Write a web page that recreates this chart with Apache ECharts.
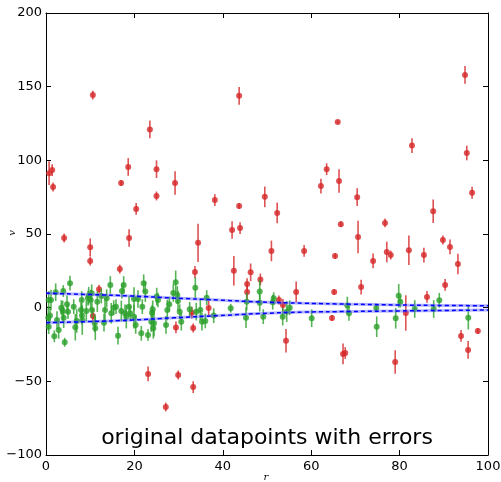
<!DOCTYPE html>
<html>
<head>
<meta charset="utf-8">
<script src="https://cdn.jsdelivr.net/npm/echarts@6/dist/echarts.min.js"></script>
<style>html,body{margin:0;padding:0;background:#fff;}#chart{width:501px;height:482px;}</style>
</head>
<body>
<div id="chart"></div>
<script>
// Red (outlier) datapoints: x, y, error
var redX = [0.7,1.4,1.6,4.1,10.6,10.0,10.0,10.6,12,16.7,17,18.6,18.8,20.4,23.1,23.5,25,25,27.1,29.2,29.4,29.9,33,33.3,33.3,33.7,34.4,36.8,38.2,42.1,42.5,43.7,43.7,43.9,45.5,45.5,46.3,48.5,49.5,51,52.3,52.7,53.6,54.3,56.6,58.4,62.2,63.5,64.7,65.2,65.4,66,66.3,66.7,67.2,67.7,70.4,70.6,71.3,74,76.7,77.1,78,79,81.4,82.1,82.8,85.5,86.2,87.6,89.8,90.3,91.4,93.2,93.9,94.8,95.2,95.5,96.4,97.7];
var redY = [91.3,93.4,81.9,47.3,144.3,41,31.7,-5.6,12.5,26.2,84.6,95.5,47.3,67,-45,121,94,75.8,-67.4,84.6,-13.4,-45.7,-3.4,-53.9,-13.8,24.2,44,-0.2,73,52.7,25,143.8,69,54,10.6,16,24,19.2,75.2,38.5,64.3,5.2,1.8,-22.5,10.7,38.5,82.5,94,-7,10.7,35,126,86,56.7,-31.4,-30.8,75,48,14,31.7,57.5,37.8,35.7,-36.9,-3.6,39,110,35.7,7.3,65.5,45.9,15.4,41.2,29.6,-19.2,158,105,-28.7,78,-15.8];
var redErr = [8,4,3,3,3,6,3,5,3,3,2,6,6,4,5,6,6,3,3,8,4,3,4,4,3,4,13,5,4,6,10,6,2,4,5,4,6,4,7,7,7,3,4,8,7,4,5,4,2,2,2,1,8,2,7,4,6,11,5,5,3,7,3,8,12,10,5,5,4,8,3,4,5,7,4,6,5,6,4,2];

// Green (inlier) datapoints: x, y, error
var greenX = [5.43,2.19,3.91,1.13,0.61,0.90,0.52,2.49,0.61,1.88,2.87,4.23,3.46,3.78,4.75,4.98,4.00,6.27,6.95,6.63,8.08,7.92,8.14,8.21,9.12,9.50,9.66,10.11,10.34,10.41,11.15,11.02,11.61,12.51,13.35,13.73,14.77,14.55,15.32,15.84,16.29,17.19,17.58,17.04,17.87,18.17,19.07,13.12,22.10,22.47,19.91,20.81,21.79,18.78,19.91,20.29,21.56,23.08,24.14,23.98,23.82,24.43,24.28,25.05,25.34,27.15,27.44,27.90,28.80,29.34,29.71,29.86,30.25,30.61,33.78,32.51,34.00,34.91,35.29,36.04,36.36,37.94,41.79,45.25,45.41,48.35,48.35,49.16,51.29,51.52,53.55,54.46,55.14,60.11,68.17,68.55,74.73,74.82,79.12,79.80,80.16,83.42,87.71,88.98,95.54];
var greenY = [16.6,10.5,11.3,5.2,5.2,-5.4,-6.8,-8.4,-12.9,-19.4,-15.1,-23.5,0,-2.2,2.3,-2.7,-6.8,0.7,-9.0,-13.3,5.2,-1.6,-5.4,-8.4,-2.2,6.4,8.1,5.2,9.8,-1.6,-14.0,-10.6,4.1,7.9,-1.6,6.4,-3.8,15.4,0,0.7,-19.0,11.3,15.4,-2.2,-3.8,-6.1,-3.8,-10.2,16.6,10.9,5.9,5.9,0.7,0.7,-6.1,-11.7,-17.4,-18.5,-1.1,-3.4,-9.5,-10.6,-14.0,7.5,5.2,-11.7,-1.6,2.3,10.0,17.2,8.6,4.5,-2.7,-9.5,13.6,-1.1,-2.7,-1.6,-9.5,-9.0,6.8,-5.4,-0.4,-6.8,4.1,10.9,3.4,-6.1,3.7,6.4,-6.1,-2.7,0,-7.2,1.4,-3.8,-0.2,-12.9,-7.2,8.1,4.1,-0.9,-0.9,5.0,-6.8];
var greenErr = [5,6,4,7,6,5,8,6,5,4,6,3,5,7,6,5,7,5,8,9,6,5,6,10,7,5,6,7,6,5,8,6,7,5,8,6,7,6,5,5,6,5,6,7,6,8,5,6,6,7,8,6,5,7,8,6,5,4,6,5,7,9,7,6,5,6,7,5,6,8,6,7,5,6,7,5,6,7,6,5,5,5,3,7,6,8,6,5,5,4,6,7,5,6,6,5,3,7,7,8,4,6,6,5,8];

// Dashed envelope lines
var envX = [0, 10, 19.5, 29, 39, 48.4, 58.4, 69, 80, 90, 100];
var envUpper = [9.8, 8.9, 7.9, 6.5, 5.2, 3.9, 3.0, 2.4, 1.8, 1.5, 1.3];
var envLower = [-10.2, -9.4, -8.4, -6.9, -5.4, -4.0, -3.0, -2.6, -2.2, -1.9, -1.6];

// Axis ticks
var xMin = 0, xMax = 100, xStep = 20;
var yMin = -100, yMax = 200, yStep = 50;

function zip3(a, b, c) { return a.map(function (v, i) { return [v, b[i], c[i]]; }); }
function zip2(a, b) { return a.map(function (v, i) { return [v, b[i]]; }); }

function errRender(color) {
  return function (params, api) {
    var x = api.value(0), y = api.value(1), e = api.value(2);
    var p1 = api.coord([x, y - e]);
    var p2 = api.coord([x, y + e]);
    return {
      type: 'line',
      shape: { x1: p1[0], y1: p1[1], x2: p2[0], y2: p2[1] },
      style: { stroke: color, lineWidth: 1.6 }
    };
  };
}

var RED = '#d62728', GREEN = '#2ca02c';
var fmt = function (v) { return v < 0 ? '\u2212' + Math.abs(v) : String(v); };
var chart = echarts.init(document.getElementById('chart'), null, { renderer: 'canvas' });
chart.setOption({
  animation: false,
  backgroundColor: '#fff',
  grid: { left: 46, right: 13, top: 13, bottom: 27, containLabel: false, outerBoundsMode: 'none' },
  xAxis: [{
    type: 'value', min: xMin, max: xMax, interval: xStep, position: 'bottom',
    axisLine: { onZero: false, lineStyle: { color: '#000', width: 1 } },
    axisTick: { inside: true, length: 5, lineStyle: { color: '#000' } },
    axisLabel: { color: '#000', fontSize: 13, fontFamily: 'DejaVu Sans', margin: 5, formatter: fmt },
    splitLine: { show: false }
  }, {
    type: 'value', min: xMin, max: xMax, interval: xStep, position: 'top',
    axisLine: { onZero: false, lineStyle: { color: '#000', width: 1 } },
    axisTick: { inside: true, length: 5, lineStyle: { color: '#000' } },
    axisLabel: { show: false }, splitLine: { show: false }
  }],
  yAxis: [{
    type: 'value', min: yMin, max: yMax, interval: yStep, position: 'left',
    axisLine: { onZero: false, lineStyle: { color: '#000', width: 1 } },
    axisTick: { inside: true, length: 5, lineStyle: { color: '#000' } },
    axisLabel: { color: '#000', fontSize: 13, fontFamily: 'DejaVu Sans', margin: 4, formatter: fmt },
    splitLine: { show: false }
  }, {
    type: 'value', min: yMin, max: yMax, interval: yStep, position: 'right',
    axisLine: { onZero: false, lineStyle: { color: '#000', width: 1 } },
    axisTick: { inside: true, length: 5, lineStyle: { color: '#000' } },
    axisLabel: { show: false }, splitLine: { show: false }
  }],
  graphic: [{
    type: 'text', x: 267, y: 438, z: 100,
    style: { text: 'original datapoints with errors', fontSize: 22, fontFamily: 'DejaVu Sans', fill: '#000', textAlign: 'center', textVerticalAlign: 'middle' }
  }, {
    type: 'text', x: 266, y: 477, z: 100,
    style: { text: 'r', fontSize: 10, fontFamily: 'DejaVu Serif', fontStyle: 'italic', fill: '#000', textAlign: 'center', textVerticalAlign: 'middle' }
  }, {
    type: 'text', x: 12, y: 233, rotation: Math.PI / 2, z: 100,
    style: { text: 'v', fontSize: 10, fontFamily: 'DejaVu Serif', fontStyle: 'italic', fill: '#000', textAlign: 'center', textVerticalAlign: 'middle' }
  }],
  series: [
    { type: 'custom', renderItem: errRender('rgba(214,39,40,0.8)'), data: zip3(redX, redY, redErr), encode: { x: 0, y: 1 }, z: 2, silent: true },
    { type: 'scatter', data: zip2(redX, redY), symbol: 'circle', symbolSize: 6, itemStyle: { color: RED }, z: 3 },
    { type: 'custom', renderItem: errRender('rgba(44,160,44,0.8)'), data: zip3(greenX, greenY, greenErr), encode: { x: 0, y: 1 }, z: 4, silent: true },
    { type: 'scatter', data: zip2(greenX, greenY), symbol: 'circle', symbolSize: 6, itemStyle: { color: GREEN }, z: 5 },
    { type: 'line', data: zip2(envX, envUpper), smooth: true, symbol: 'none', lineStyle: { color: 'rgba(90,90,255,0.45)', width: 3 }, z: 6 },
    { type: 'line', data: zip2(envX, envLower), smooth: true, symbol: 'none', lineStyle: { color: 'rgba(90,90,255,0.45)', width: 3 }, z: 6 },
    { type: 'line', data: zip2(envX, envUpper), smooth: true, symbol: 'none', lineStyle: { color: '#0000ff', width: 1.5, type: [4, 3] }, z: 7 },
    { type: 'line', data: zip2(envX, envLower), smooth: true, symbol: 'none', lineStyle: { color: '#0000ff', width: 1.5, type: [4, 3] }, z: 7 }
  ]
});
</script>
</body>
</html>
